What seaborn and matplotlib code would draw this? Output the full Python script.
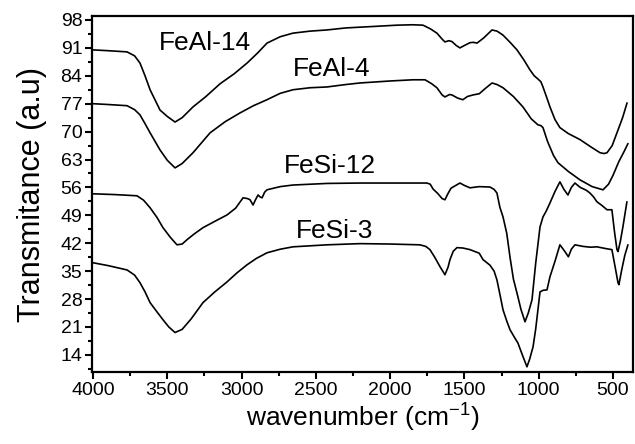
import matplotlib
matplotlib.use("Agg")
import matplotlib.pyplot as plt
import seaborn as sns
import pandas as pd
from matplotlib.ticker import MultipleLocator

feal14_x = [4000, 3900, 3771, 3720, 3684, 3650, 3616, 3549, 3500, 3448, 3400, 3327, 3240, 3145, 3050, 2963, 2890, 2829, 2740, 2654, 2540, 2425, 2300, 2203, 2100, 1954, 1850, 1779, 1730, 1685, 1650, 1631, 1605, 1584, 1555, 1530, 1500, 1463, 1440, 1415, 1370, 1314, 1280, 1240, 1190, 1146, 1100, 1059, 1030, 1005, 985, 971, 950, 924, 890, 857, 800, 722, 650, 587, 560, 540, 505, 473, 435, 405]
feal14_y = [90.5, 90.3, 90.0, 89.0, 87.2, 84.0, 80.5, 75.4, 73.8, 72.4, 73.5, 76.2, 78.8, 82.0, 84.5, 87.2, 89.8, 92.2, 93.8, 94.7, 95.2, 95.5, 96.0, 96.2, 96.4, 96.7, 96.8, 96.7, 95.8, 94.7, 93.2, 92.5, 92.8, 92.6, 91.6, 91.0, 91.6, 92.3, 92.4, 92.2, 93.5, 95.5, 95.2, 94.2, 92.3, 90.5, 88.0, 85.5, 84.0, 83.2, 82.5, 81.2, 79.0, 76.2, 73.0, 71.0, 69.5, 68.0, 66.2, 64.7, 64.5, 64.7, 66.5, 69.7, 73.5, 77.2]

feal4_x = [4000, 3900, 3771, 3720, 3684, 3650, 3616, 3549, 3500, 3448, 3400, 3327, 3212, 3110, 3010, 2920, 2829, 2740, 2654, 2540, 2425, 2300, 2203, 2000, 1846, 1765, 1720, 1685, 1650, 1631, 1600, 1584, 1545, 1510, 1480, 1442, 1400, 1360, 1314, 1280, 1240, 1170, 1106, 1050, 1005, 985, 971, 940, 900, 870, 800, 722, 640, 567, 530, 500, 460, 425, 399]
feal4_y = [77.0, 76.8, 76.5, 75.5, 74.2, 72.0, 69.7, 65.4, 62.8, 60.9, 62.0, 64.7, 69.7, 72.5, 74.7, 76.5, 78.0, 79.6, 80.5, 81.0, 81.2, 81.8, 82.2, 82.7, 83.0, 83.0, 82.0, 81.0, 79.2, 78.7, 79.3, 79.2, 78.4, 78.0, 78.8, 79.2, 79.5, 80.8, 82.2, 81.8, 81.0, 78.8, 76.2, 73.2, 71.7, 71.5, 71.0, 67.5, 64.0, 62.2, 60.0, 57.9, 56.2, 55.4, 56.8, 59.0, 62.5, 65.0, 67.0]

fesi12_x = [4000, 3850, 3704, 3660, 3616, 3570, 3529, 3480, 3435, 3400, 3367, 3320, 3260, 3180, 3098, 3040, 2990, 2960, 2943, 2923, 2905, 2889, 2875, 2862, 2845, 2829, 2740, 2654, 2425, 2203, 2000, 1752, 1730, 1711, 1680, 1650, 1631, 1610, 1590, 1577, 1530, 1500, 1463, 1400, 1328, 1300, 1281, 1261, 1240, 1215, 1193, 1170, 1140, 1120, 1092, 1070, 1045, 1020, 991, 971, 950, 924, 890, 857, 830, 803, 780, 756, 720, 680, 655, 630, 608, 575, 540, 507, 490, 473, 466, 450, 433, 406]
fesi12_y = [54.4, 54.2, 53.9, 52.8, 50.9, 48.5, 45.9, 43.5, 41.6, 41.8, 42.9, 44.3, 45.9, 47.5, 49.1, 50.8, 53.4, 53.2, 52.9, 51.6, 53.0, 54.1, 53.6, 53.4, 54.8, 55.4, 56.2, 56.6, 57.0, 57.1, 57.1, 57.1, 56.8, 55.6, 54.5, 53.2, 52.9, 54.5, 55.8, 56.1, 57.1, 56.5, 55.9, 56.2, 56.1, 55.5, 54.6, 51.0, 48.6, 44.5, 38.5, 33.0, 28.6, 25.5, 22.3, 24.5, 27.8, 37.0, 46.1, 48.6, 50.0, 52.1, 55.0, 57.4, 55.5, 54.1, 56.0, 57.1, 56.0, 55.3, 54.6, 53.6, 52.4, 51.5, 50.4, 50.4, 45.0, 40.4, 39.9, 42.5, 46.1, 52.4]

fesi3_x = [4000, 3900, 3771, 3720, 3684, 3650, 3616, 3570, 3529, 3490, 3448, 3400, 3340, 3260, 3180, 3098, 3030, 2963, 2900, 2829, 2740, 2654, 2425, 2203, 2000, 1799, 1760, 1732, 1700, 1664, 1631, 1610, 1597, 1575, 1550, 1510, 1463, 1400, 1375, 1328, 1300, 1281, 1260, 1240, 1215, 1193, 1160, 1140, 1110, 1079, 1060, 1038, 1020, 1005, 991, 970, 944, 924, 890, 857, 825, 800, 780, 756, 700, 650, 608, 540, 507, 485, 466, 460, 440, 420, 399]
fesi3_y = [37.1, 36.4, 35.3, 34.0, 32.1, 29.8, 27.1, 24.8, 22.8, 21.0, 19.6, 20.4, 23.0, 27.1, 29.8, 32.3, 34.6, 36.6, 38.2, 39.6, 40.5, 41.1, 41.6, 41.9, 41.8, 41.6, 41.2, 40.4, 38.5, 36.1, 34.1, 36.0, 37.9, 40.0, 40.9, 40.8, 40.4, 39.5, 37.9, 36.5, 35.0, 32.8, 29.0, 25.3, 22.5, 20.3, 18.2, 17.0, 14.0, 11.0, 13.0, 16.0, 20.5, 25.3, 29.8, 30.2, 30.3, 33.6, 37.5, 41.6, 40.0, 38.6, 40.5, 41.6, 41.2, 41.0, 41.1, 40.6, 40.4, 36.0, 32.1, 31.6, 35.5, 39.0, 41.6]

series_names = ["FeAl-14", "FeAl-4", "FeSi-12", "FeSi-3"]
label_pos_x = [3246, 2391, 2405, 2371]
label_pos_y = [92.2, 85.8, 61.4, 45.1]
y_ticks = [14, 21, 28, 35, 42, 49, 56, 63, 70, 77, 84, 91, 98]
x_ticks = [4000, 3500, 3000, 2500, 2000, 1500, 1000, 500]

sns.set_theme(style="ticks")
plt.rcParams['font.family'] = ['Liberation Sans', 'DejaVu Sans']
plt.rcParams['text.color'] = 'black'
plt.rcParams['axes.labelcolor'] = 'black'
plt.rcParams['xtick.color'] = 'black'
plt.rcParams['ytick.color'] = 'black'

frames = []
for name, xs, ys in zip(series_names,
                        [feal14_x, feal4_x, fesi12_x, fesi3_x],
                        [feal14_y, feal4_y, fesi12_y, fesi3_y]):
    frames.append(pd.DataFrame({"wavenumber": xs, "T": ys, "sample": name}))
df = pd.concat(frames, ignore_index=True)

fig = plt.figure(figsize=(6.35, 4.44), dpi=100)
ax = fig.add_axes([92/635, 1-372/444, (633-92)/635, (372-16)/444])
sns.lineplot(data=df, x="wavenumber", y="T", units="sample", estimator=None,
             color="black", linewidth=1.2, sort=False, ax=ax, legend=False)

ax.set_xlim(4007, 365)
ax.set_ylim(9.7, 99.0)
ax.set_xticks(x_ticks)
ax.set_yticks(y_ticks)
ax.xaxis.set_minor_locator(MultipleLocator(250))
ax.yaxis.set_minor_locator(MultipleLocator(3.5))
ax.tick_params(which="major", direction="out", length=5, width=1.5, labelsize=14, colors="black", pad=2)
ax.tick_params(which="minor", direction="out", length=3, width=1.5, colors="black")
for s in ax.spines.values():
    s.set_linewidth(1.6)
    s.set_color("black")

ax.set_xlabel("wavenumber (cm$^{\\mathregular{-1}}$)", fontsize=19, labelpad=1, color="black")
ax.set_ylabel("Transmitance (a.u)", fontsize=22, labelpad=10, color="black")

for name, lx, ly in zip(series_names, label_pos_x, label_pos_y):
    ax.text(lx, ly, name, fontsize=19, ha="center", va="center", color="black")

fig.savefig("out.png", dpi=100)
